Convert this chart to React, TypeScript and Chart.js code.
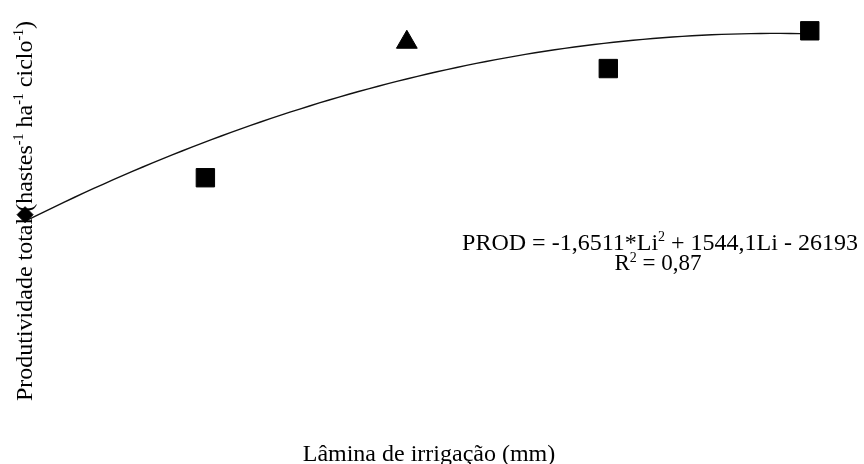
import React, { useEffect, useRef } from "react";
import { Chart, registerables } from "chart.js";

Chart.register(...registerables);

// Observed data (Lâmina de irrigação, mm  ->  Produtividade total)
const LAMINA = [94.5, 184, 284, 384, 484];
const PRODUTIVIDADE = [113000, 158200, 324000, 291800, 338000];
const MARKER_STYLES = ["rectRot", "rect", "triangle", "rect", "rect"];
const MARKER_RADII = [8, 13, 12, 13, 13];

// Printed trend-line equation: PROD = -1,6511*Li² + 1544,1Li - 26193
const COEF_A = -1.6511;
const COEF_B = 1544.1;
const COEF_C = -26193;
const TREND_STEPS = 80;

const X_TITLE = "Lâmina de irrigação (mm)";
const Y_TITLE_PARTS = [
  { t: "Produtividade total (hastes", sup: false },
  { t: "-1", sup: true },
  { t: " ha", sup: false },
  { t: "-1", sup: true },
  { t: " ciclo", sup: false },
  { t: "-1", sup: true },
  { t: ")", sup: false },
];
const EQ_PARTS = [
  { t: "PROD = -1,6511*Li", sup: false },
  { t: "2", sup: true },
  { t: " + 1544,1Li - 26193", sup: false },
];
const R2_PARTS = [
  { t: "R", sup: false },
  { t: "2", sup: true },
  { t: " = 0,87", sup: false },
];

const FONT = '"Liberation Serif", "Times New Roman", serif';
const TEXT_SIZE = 24;

type Part = { t: string; sup: boolean };

function partsWidth(ctx: CanvasRenderingContext2D, parts: Part[], size: number) {
  let w = 0;
  for (const p of parts) {
    ctx.font = `${p.sup ? Math.round(size * 0.6) : size}px ${FONT}`;
    w += ctx.measureText(p.t).width;
  }
  return w;
}

function drawParts(
  ctx: CanvasRenderingContext2D,
  parts: Part[],
  size: number,
  cx: number,
  baseline: number
) {
  const total = partsWidth(ctx, parts, size);
  let x = cx - total / 2;
  ctx.textBaseline = "alphabetic";
  ctx.textAlign = "left";
  for (const p of parts) {
    const s = p.sup ? Math.round(size * 0.6) : size;
    ctx.font = `${s}px ${FONT}`;
    ctx.fillText(p.t, x, p.sup ? baseline - size * 0.36 : baseline);
    x += ctx.measureText(p.t).width;
  }
}

const textPlugin = {
  id: "texts",
  afterDraw(chart: any) {
    const ctx: CanvasRenderingContext2D = chart.ctx;
    ctx.save();
    ctx.fillStyle = "#000";
    // x title
    drawParts(ctx, [{ t: X_TITLE, sup: false }], TEXT_SIZE, 429, 461);
    // equation
    drawParts(ctx, EQ_PARTS, TEXT_SIZE, 660, 250);
    drawParts(ctx, R2_PARTS, 23, 658, 270);
    // y title (rotated)
    ctx.translate(32, 211);
    ctx.rotate(-Math.PI / 2);
    drawParts(ctx, Y_TITLE_PARTS, TEXT_SIZE, 0, 0);
    ctx.restore();
  },
};

export default function App() {
  const ref = useRef<HTMLCanvasElement | null>(null);

  useEffect(() => {
    if (!ref.current) return;
    const x0 = LAMINA[0];
    const x1 = LAMINA[LAMINA.length - 1];
    const trend: { x: number; y: number }[] = [];
    for (let i = 0; i <= TREND_STEPS; i++) {
      const li = x0 + ((x1 - x0) * i) / TREND_STEPS;
      trend.push({ x: li, y: COEF_A * li * li + COEF_B * li + COEF_C });
    }
    const points = LAMINA.map((x, i) => ({ x, y: PRODUTIVIDADE[i] }));

    const chart = new Chart(ref.current, {
      type: "scatter",
      data: {
        datasets: [
          {
            label: "Produtividade",
            data: points,
            pointStyle: MARKER_STYLES as any,
            pointRadius: MARKER_RADII,
            pointBackgroundColor: "#000",
            pointBorderColor: "#000",
            pointBorderWidth: 1,
            showLine: false,
            clip: false as any,
            order: 0,
          },
          {
            label: "Tendência",
            data: trend,
            showLine: true,
            borderColor: "#111",
            borderWidth: 1.4,
            pointRadius: 0,
            tension: 0,
            clip: false as any,
            order: 1,
          },
        ],
      },
      options: {
        animation: false,
        responsive: false,
        layout: { padding: { left: 16, right: 22, top: 21, bottom: 157 } },
        plugins: {
          legend: { display: false },
          tooltip: { enabled: false },
        },
        scales: {
          x: { type: "linear", min: 90, max: 500, display: false },
          y: { type: "linear", min: 0, max: 350000, display: false },
        },
      },
      plugins: [textPlugin],
    });
    return () => chart.destroy();
  }, []);

  return (
    <div style={{ position: "fixed", left: 0, top: 0, width: 864, height: 464, background: "#fff" }}>
      <canvas ref={ref} width={864} height={464} style={{ width: 864, height: 464, display: "block" }} />
    </div>
  );
}
